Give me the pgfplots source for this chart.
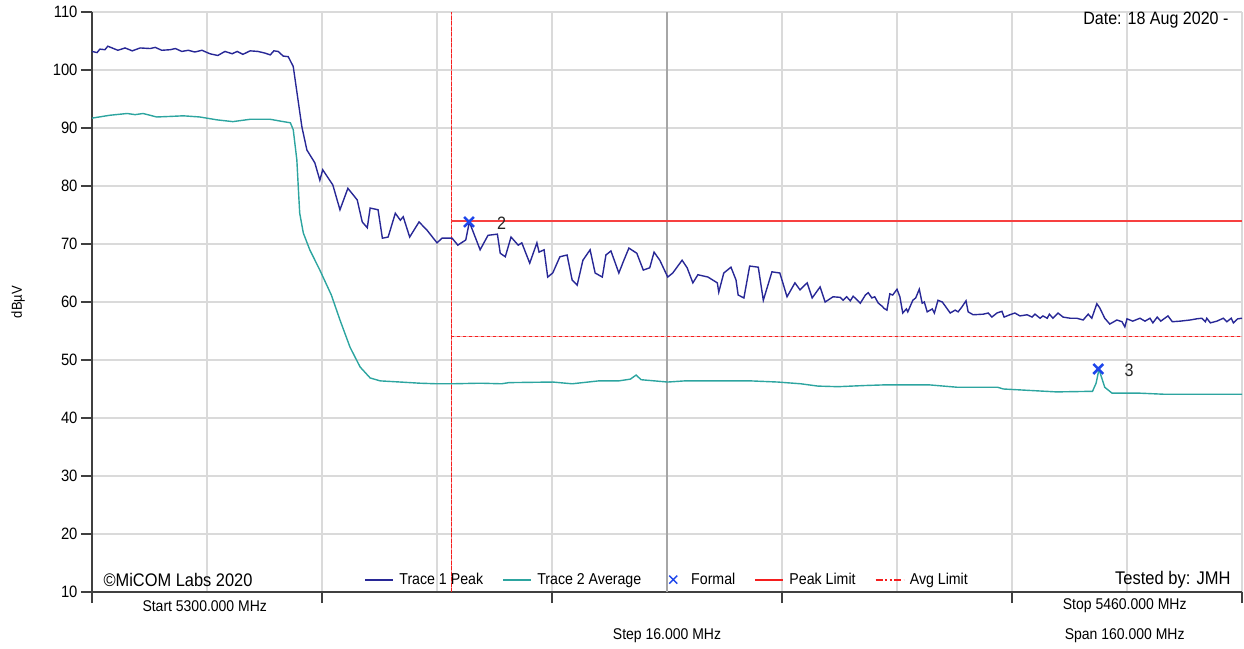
\documentclass[border=0pt]{standalone}
\usepackage{fontspec}
\setmainfont{Liberation Sans}[FakeStretch=0.9]
\usepackage{pgfplots}
\pgfplotsset{compat=1.18}

\definecolor{peakc}{RGB}{40,40,150}
\definecolor{avgc}{RGB}{45,165,160}
\definecolor{gridc}{RGB}{218,218,218}
\definecolor{markc}{RGB}{30,70,235}
\definecolor{limc}{RGB}{245,30,30}

\pgfplotsset{
  lineleg/.style={legend image code/.code={\draw[##1] (0bp,0bp) -- (28bp,0bp);}},
  markleg/.style={legend image code/.code={\path[draw=none] (0bp,0bp) -- (26bp,0bp);
      \draw[markc, line width=1.5bp] (9bp,-4bp) -- (17bp,4bp) (9bp,4bp) -- (17bp,-4bp);}},
}

\pgfplotstableread{
f v
5300.0 103.2
5300.7 103.0
5301.1 103.6
5301.8 103.5
5302.2 104.1
5302.8 103.8
5303.6 103.4
5304.6 103.8
5305.6 103.3
5306.7 103.8
5308.1 103.7
5308.8 103.9
5309.7 103.4
5310.9 103.5
5311.6 103.7
5312.5 103.2
5313.4 103.4
5314.3 103.1
5315.3 103.4
5316.4 102.8
5317.5 102.5
5318.5 103.2
5319.5 102.8
5320.2 103.2
5321.0 102.7
5322.0 103.3
5323.1 103.2
5324.1 102.9
5324.8 102.6
5325.3 103.3
5325.9 103.2
5326.6 102.4
5327.3 102.3
5328.0 100.6
5329.2 90.2
5329.9 86.2
5331.0 84.0
5331.7 81.0
5332.1 82.8
5333.5 80.2
5334.5 75.9
5335.6 79.6
5336.9 77.6
5337.6 73.8
5338.3 72.8
5338.7 76.2
5339.8 75.9
5340.4 71.0
5341.2 71.2
5342.2 75.3
5342.9 74.1
5343.3 74.7
5344.2 71.2
5345.5 73.8
5346.6 72.4
5348.0 70.2
5348.7 71.0
5350.1 71.0
5350.9 69.8
5352.0 70.7
5352.5 73.8
5354.0 69.0
5355.1 71.5
5356.4 71.7
5356.8 68.4
5357.5 67.8
5358.3 71.2
5359.3 69.8
5359.8 70.2
5360.9 66.7
5361.9 70.2
5362.2 68.6
5362.9 69.0
5363.4 64.3
5364.1 65.0
5365.1 67.8
5366.1 68.1
5366.8 63.8
5367.5 62.9
5368.3 67.2
5369.3 69.0
5370.0 65.0
5371.0 64.3
5371.5 68.1
5372.2 68.8
5373.3 65.0
5374.0 67.2
5374.7 69.3
5375.8 68.4
5376.7 65.5
5377.6 65.9
5378.2 68.6
5379.0 67.2
5380.1 64.3
5380.8 65.0
5382.1 67.2
5382.8 65.9
5383.6 63.3
5384.3 64.7
5385.7 64.3
5387.0 63.3
5387.2 61.7
5387.9 65.0
5388.9 66.0
5389.6 63.8
5389.9 61.2
5390.7 60.7
5391.5 66.2
5392.7 66.0
5393.4 60.3
5394.6 65.2
5395.7 65.0
5396.7 60.9
5397.8 63.3
5398.5 62.1
5399.5 63.3
5400.2 60.7
5401.3 62.6
5402.0 60.0
5403.1 60.9
5404.1 60.8
5404.5 60.3
5405.0 60.9
5405.5 60.2
5405.9 61.0
5406.9 59.8
5407.6 61.2
5408.0 61.6
5408.5 60.7
5408.9 60.9
5409.4 59.8
5409.9 59.3
5410.2 58.9
5410.6 58.6
5411.0 61.4
5411.4 61.2
5412.0 62.2
5412.4 60.9
5412.8 58.1
5413.3 58.8
5413.5 58.3
5414.2 60.3
5414.6 60.7
5415.1 62.2
5415.5 59.8
5415.8 60.0
5416.2 58.3
5416.9 58.8
5417.2 58.1
5417.7 60.3
5418.3 60.0
5419.0 58.8
5419.4 58.1
5420.1 58.6
5420.5 58.3
5421.0 59.1
5421.6 60.2
5421.9 58.3
5422.6 57.8
5424.0 57.9
5424.7 58.1
5425.2 57.4
5425.9 58.1
5426.6 58.4
5426.9 57.4
5427.7 57.8
5428.4 58.1
5429.1 57.6
5430.1 57.8
5430.8 57.4
5431.2 57.9
5431.9 57.2
5432.3 57.6
5432.9 57.2
5433.2 57.9
5433.7 57.2
5434.4 58.1
5435.1 57.4
5436.1 57.2
5437.0 57.2
5437.9 56.9
5438.6 57.9
5439.1 57.2
5439.8 59.7
5440.2 59.0
5440.9 57.2
5441.6 56.2
5442.6 56.9
5443.3 56.6
5443.7 55.7
5444.0 57.1
5444.8 56.7
5445.8 57.2
5446.5 56.7
5447.2 57.2
5447.6 56.4
5448.2 57.4
5448.7 56.7
5449.7 57.6
5450.3 56.6
5451.4 56.7
5452.8 56.9
5453.7 57.1
5454.4 57.2
5454.9 56.6
5455.1 57.2
5455.6 56.4
5456.5 56.7
5457.4 57.2
5457.9 56.6
5458.5 57.2
5458.8 56.4
5459.4 57.1
5460.0 57.2
}\peaktrace

\pgfplotstableread{
f v
5300.0 91.7
5301.0 91.9
5302.5 92.2
5304.9 92.5
5306.0 92.3
5307.1 92.5
5309.0 91.9
5311.0 92.0
5312.7 92.1
5315.0 91.9
5317.4 91.4
5319.6 91.1
5322.0 91.5
5324.8 91.5
5326.6 91.1
5327.6 90.9
5328.0 89.7
5328.5 84.5
5328.7 79.8
5328.9 75.3
5329.4 71.9
5330.3 69.0
5331.7 65.5
5333.3 61.2
5334.5 56.9
5335.9 52.2
5337.3 48.8
5338.7 46.9
5340.1 46.4
5342.9 46.2
5345.6 46.0
5348.0 45.9
5350.1 45.9
5354.0 46.0
5357.0 45.9
5358.0 46.1
5364.1 46.2
5366.8 45.9
5370.5 46.4
5373.3 46.4
5374.9 46.7
5375.7 47.4
5376.4 46.6
5380.1 46.2
5382.5 46.4
5385.3 46.4
5391.6 46.4
5395.4 46.2
5398.6 45.9
5401.0 45.5
5403.8 45.4
5407.5 45.6
5410.0 45.7
5416.6 45.7
5420.4 45.3
5426.0 45.3
5426.8 45.0
5434.2 44.5
5439.2 44.6
5439.7 46.0
5440.1 48.4
5440.9 45.3
5441.9 44.3
5445.4 44.3
5449.1 44.1
5460.0 44.1
}\avgtrace

\begin{document}
\begin{tikzpicture}
\begin{axis}[
    scale only axis,
    width=1150bp, height=580bp,
    xmin=5300, xmax=5460, ymin=10, ymax=110,
    axis x line*=bottom, axis y line*=left,
    axis line style={line width=1.5bp, black!75},
    xtick={5300,5332,...,5460},
    minor xtick={5316,5348,...,5444},
    xticklabels={},
    ytick={10,20,...,110},
    xmajorgrids, xminorgrids, ymajorgrids,
    grid style={gridc, line width=1.2bp},
    minor grid style={gridc, line width=1.2bp},
    tick align=outside,
    major tick length=11bp, minor tick length=0pt,
    tick style={black!75, line width=1.2bp},
    yticklabel style={font=\fontsize{16.5}{16.5}\selectfont},
    /pgf/number format/assume math mode=true,
    ylabel={dBµV},
    ylabel style={at={(axis description cs:-0.0643,0.5)}, rotate=0, anchor=center,
                  font=\fontsize{14.5}{14.5}\selectfont},
    clip=false,
    legend columns=5,
    legend style={at={(0.5,0.003)}, anchor=south, draw=none, fill=none,
                  font=\fontsize{15.8}{16}\selectfont,
                  /tikz/every odd column/.append style={column sep=3bp},
                  /tikz/every even column/.append style={column sep=17bp}},
    legend cell align=left,
]
% centre line, start line and limits
\addplot[forget plot, black!35, line width=1.3bp] coordinates {(5380,10) (5380,110)};
\addplot[forget plot, limc!55, line width=1.3bp] coordinates {(5350,10) (5350,110)};
\addplot[forget plot, limc, line width=1.3bp, dash pattern=on 4bp off 1.5bp] coordinates {(5350,10) (5350,110)};
\addplot[forget plot, limc!85, line width=1.5bp] coordinates {(5350,74) (5460,74)};
\addplot[forget plot, limc!40, line width=1.4bp] coordinates {(5350,54) (5460,54)};
\addplot[forget plot, limc, line width=1.4bp, dash pattern=on 3bp off 3bp] coordinates {(5350,54) (5460,54)};

\addplot[forget plot, peakc, line width=1.4bp] table[x=f, y=v] {\peaktrace};
\addplot[forget plot, avgc, line width=1.4bp] table[x=f, y=v] {\avgtrace};

\addplot[forget plot, only marks, mark=x, mark size=7bp, markc, line width=2.5bp]
    coordinates {(5352.45,73.8) (5440.0,48.45)};
\node[font=\fontsize{18}{18}\selectfont, black!85] at (axis cs:5357.0,73.5) {2};
\node[font=\fontsize{18}{18}\selectfont, black!85] at (axis cs:5444.3,48.2) {3};

% legend
\addlegendimage{lineleg, peakc, line width=2.2bp}
\addlegendimage{lineleg, avgc, line width=2.2bp}
\addlegendimage{markleg}
\addlegendimage{lineleg, limc, line width=2.2bp}
\addlegendimage{lineleg, limc, line width=2.2bp, dash pattern=on 7bp off 2.5bp on 2bp off 2.5bp on 2bp off 2.5bp}
\legend{Trace 1 Peak, Trace 2 Average, Formal, Peak Limit, Avg Limit}

% annotation texts
\node[anchor=east, font=\fontsize{17.9}{18}\selectfont] at (rel axis cs:0.9913,0.986) {Date: 18 Aug 2020 -};
\node[anchor=west, font=\fontsize{18.3}{18}\selectfont] at (rel axis cs:0.007,0.0207) {©MiCOM Labs 2020};
\node[anchor=east, font=\fontsize{18.4}{18}\selectfont] at (rel axis cs:0.993,0.0207) {Tested by: JMH};
\node[font=\fontsize{15.6}{16}\selectfont] at (rel axis cs:0.098,-0.024) {Start 5300.000 MHz};
\node[font=\fontsize{15.6}{16}\selectfont] at (rel axis cs:0.898,-0.024) {Stop 5460.000 MHz};
\node[font=\fontsize{15.6}{16}\selectfont] at (rel axis cs:0.5,-0.0759) {Step 16.000 MHz};
\node[font=\fontsize{15.6}{16}\selectfont] at (rel axis cs:0.898,-0.0759) {Span 160.000 MHz};
\end{axis}
\pgfresetboundingbox
\path[use as bounding box] ([shift={(-92bp,-56bp)}]current axis.south west) rectangle ([shift={(2bp,12bp)}]current axis.north east);
\end{tikzpicture}
\end{document}
